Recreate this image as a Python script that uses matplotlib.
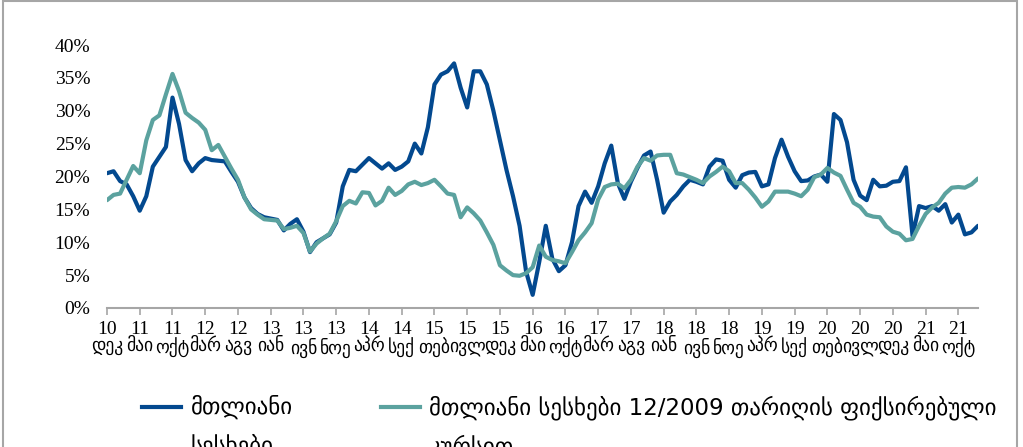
import numpy as np
import matplotlib
import matplotlib.pyplot as plt
from matplotlib.lines import Line2D
from matplotlib.patches import Rectangle

matplotlib.use('Agg')

# monthly values, Dec 2010 .. Jan 2022 (%)
total_loans = [
    20.5, 20.8, 19.3, 18.8, 17.0, 14.8, 17.0, 21.5, 23.0, 24.5,
    32.0, 28.0, 22.5, 20.8, 22.0, 22.8, 22.5, 22.4, 22.3, 20.7,
    19.2, 16.8, 15.2, 14.3, 13.8, 13.6, 13.4, 11.8, 12.8, 13.5,
    11.6, 8.5, 10.0, 10.6, 11.2, 13.0, 18.5, 21.0, 20.8, 21.8,
    22.8, 22.0, 21.2, 22.0, 21.0, 21.5, 22.3, 25.0, 23.5, 27.5,
    34.0, 35.5, 36.0, 37.2, 33.5, 30.5, 36.0, 36.0, 34.0, 30.0,
    25.5, 21.0, 17.0, 12.5, 5.5, 2.0, 7.0, 12.5, 7.5, 5.6,
    6.5, 10.0, 15.5, 17.7, 16.0, 18.5, 22.0, 24.7, 19.0, 16.6,
    19.2, 21.3, 23.2, 23.8, 19.5, 14.5, 16.2, 17.2, 18.5, 19.5,
    19.2, 18.8, 21.5, 22.6, 22.4, 19.5, 18.3, 20.2, 20.6, 20.7,
    18.5, 18.8, 22.8, 25.6, 23.0, 20.8, 19.3, 19.4, 20.0, 20.3,
    19.2, 29.5, 28.6, 25.2, 19.5, 17.1, 16.4, 19.5, 18.5, 18.6,
    19.2, 19.3, 21.4, 11.0, 15.5, 15.2, 15.5, 14.8, 15.8, 13.0,
    14.2, 11.2, 11.5, 12.5,
]
fixed_rate_loans = [
    16.4, 17.2, 17.4, 19.5, 21.6, 20.5, 25.5, 28.6, 29.3, 32.5,
    35.6, 33.0, 29.7, 28.9, 28.2, 27.1, 24.0, 24.8, 23.0, 21.2,
    19.5, 16.8, 15.0, 14.2, 13.5, 13.4, 13.3, 12.0, 12.2, 12.5,
    11.4, 8.6, 9.8, 10.6, 11.3, 13.2, 15.5, 16.3, 15.9, 17.6,
    17.5, 15.6, 16.3, 18.3, 17.2, 17.8, 18.8, 19.2, 18.7, 19.0,
    19.5, 18.5, 17.4, 17.2, 13.8, 15.3, 14.4, 13.3, 11.5, 9.6,
    6.5, 5.7, 5.0, 4.9, 5.3, 6.2, 9.5, 7.8, 7.3, 7.1,
    6.8, 8.5, 10.3, 11.5, 12.9, 16.5, 18.4, 18.8, 18.9, 18.2,
    19.5, 21.5, 22.8, 22.4, 23.2, 23.3, 23.3, 20.5, 20.3, 19.9,
    19.5, 19.0, 20.0, 20.7, 21.5, 20.8, 19.0, 19.0, 18.0, 16.8,
    15.4, 16.2, 17.7, 17.7, 17.7, 17.4, 17.0, 18.0, 19.9, 20.3,
    21.3, 20.6, 20.1, 18.0, 16.0, 15.4, 14.2, 13.9, 13.8, 12.4,
    11.6, 11.3, 10.3, 10.5, 12.5, 14.3, 15.3, 16.0, 17.4, 18.3,
    18.4, 18.3, 18.8, 19.7,
]

tick_years = ['10', '11', '11', '12', '12', '13', '13', '13', '14', '14',
              '15', '15', '15', '16', '16', '17', '17', '18', '18', '18',
              '19', '19', '20', '20', '20', '21', '21']
tick_months = ['დეკ', 'მაი', 'ოქტ', 'მარ', 'აგვ', 'იან', 'ივნ', 'ნოე', 'აპრ',
               'სექ', 'თებ', 'ივლ', 'დეკ', 'მაი', 'ოქტ', 'მარ', 'აგვ', 'იან',
               'ივნ', 'ნოე', 'აპრ', 'სექ', 'თებ', 'ივლ', 'დეკ', 'მაი', 'ოქტ']
y_ticks = [0, 5, 10, 15, 20, 25, 30, 35, 40]

label_total = 'მთლიანი\nსესხები'
label_fixed = 'მთლიანი სესხები 12/2009 თარიღის ფიქსირებული\nკურსით'

blue = '#03498f'
teal = '#5ba29f'
grey = '#a6a6a6'
plt.rcParams['font.family'] = ['Liberation Serif', 'DejaVu Sans']

fig = plt.figure(figsize=(10.23, 4.47), dpi=100)
ax = fig.add_axes([107 / 1023, 1 - 308 / 447, 871 / 1023, 263 / 447])

months = np.arange(len(total_loans))
ax.plot(months, fixed_rate_loans, color=teal, lw=3, solid_capstyle='round',
        solid_joinstyle='round', zorder=3)
ax.plot(months, total_loans, color=blue, lw=3, solid_capstyle='round',
        solid_joinstyle='round', zorder=2)

ax.set_xlim(0, len(total_loans) - 1)
ax.set_ylim(0, 40)

tick_pos = np.arange(len(tick_years)) * 5
ax.set_xticks(tick_pos)
ax.set_xticklabels([f'{y}\n{m}' for y, m in zip(tick_years, tick_months)],
                   fontsize=14, linespacing=1.05, fontstretch='condensed')
ax.set_yticks(y_ticks)
ax.set_yticklabels([f'{v}%' for v in y_ticks], fontsize=14)

ax.tick_params(axis='x', length=5, width=1.2, color=grey, pad=4)
ax.tick_params(axis='y', length=0, pad=12)
for s in ['top', 'right', 'left']:
    ax.spines[s].set_visible(False)
ax.spines['bottom'].set_color(grey)
ax.spines['bottom'].set_linewidth(1.5)

# legend (second lines are cut off by the figure edge as in the original)
fig.add_artist(Line2D([142 / 1023, 181 / 1023], [1 - 407 / 447] * 2,
                      color=blue, lw=3, transform=fig.transFigure))
fig.add_artist(Line2D([381 / 1023, 420 / 1023], [1 - 407 / 447] * 2,
                      color=teal, lw=3, transform=fig.transFigure))
fig.text(191 / 1023, 1 - 395 / 447, label_total, fontsize=16.5, va='top',
         ha='left', linespacing=1.75, family=['DejaVu Sans'])
fig.text(429 / 1023, 1 - 395 / 447, label_fixed, fontsize=16.5, va='top',
         ha='left', linespacing=1.75, family=['DejaVu Sans'])

# chart area border
fig.add_artist(Rectangle((3 / 1023, -0.1), 1014 / 1023, 1.1 - 1.5 / 447,
                         fill=False, edgecolor=grey, lw=1.5,
                         transform=fig.transFigure))

fig.savefig('out.png', dpi=100)
